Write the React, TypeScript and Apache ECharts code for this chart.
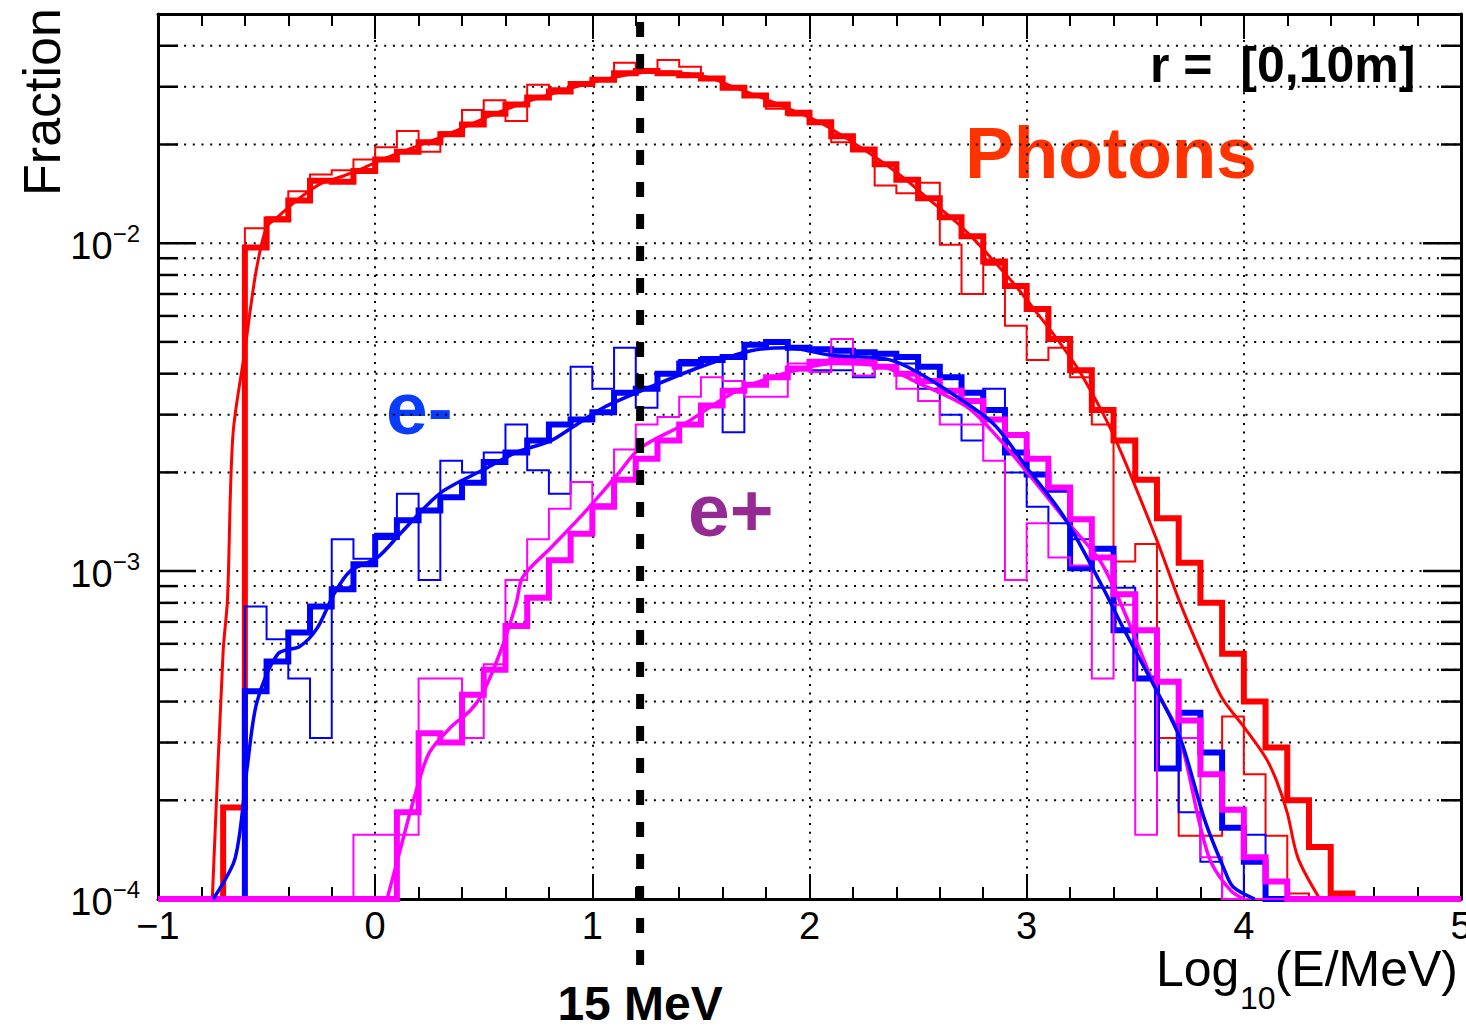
import { useEffect, useRef } from 'react';
import * as echarts from 'echarts';

// ---------- axis ranges / ticks ----------
const X_MIN = -1;
const X_MAX = 5;
const BIN_WIDTH = 0.1;
const Y_MIN = 1e-4;
const Y_MAX = 0.05;
const Y_GRID_VALUES = [
  2e-4, 3e-4, 4e-4, 5e-4, 6e-4, 7e-4, 8e-4, 9e-4,
  1e-3, 2e-3, 3e-3, 4e-3, 5e-3, 6e-3, 7e-3, 8e-3, 9e-3,
  1e-2, 2e-2, 3e-2, 4e-2,
];
const Y_MAJOR_TICKS = [1e-3, 1e-2];
const THRESHOLD_X = [1.22];
const THRESHOLD_LABEL = '15 MeV';

// ---------- histograms: 60 bins of 0.1 from -1 to 5 ----------
const photonThick = [
  0, 0, 0, 1.9e-4,
  0.0097, 0.0118, 0.0135, 0.0155, 0.0154, 0.0166,
  0.018, 0.019, 0.0203, 0.0215, 0.023, 0.0248, 0.0265, 0.0278, 0.029, 0.0306,
  0.0315, 0.033, 0.0335, 0.033, 0.0325, 0.0318, 0.0298, 0.0282, 0.0265, 0.025,
  0.0234, 0.0212, 0.0193, 0.0174, 0.0156, 0.0137, 0.012, 0.0105, 0.0088, 0.0074,
  0.0063, 0.0051, 0.0041, 0.0031, 0.0025, 0.0019, 0.00145, 0.00106, 0.0008, 0.00056,
  0.0004, 0.00029, 0.0002, 0.000144, 0.000104, 0, 0, 0, 0, 0,
];
const photonThin = [
  0, 0, 0, 0,
  0.0111, 0.012, 0.0144, 0.0162, 0.0167, 0.018,
  0.0196, 0.022, 0.019, 0.0218, 0.0255, 0.0273, 0.0236, 0.0304, 0.0297, 0.031,
  0.0318, 0.0355, 0.034, 0.0362, 0.0345, 0.032, 0.03, 0.0285, 0.0257, 0.0245,
  0.0232, 0.0203, 0.0192, 0.015, 0.0142, 0.0153, 0.0099, 0.007, 0.0086, 0.0056,
  0.0044, 0.0048, 0.0039, 0.0028, 0.00107, 0.00121, 0.00031, 0.000156, 0.000156, 0.00036,
  0.00024, 0.000156, 0.000104, 0, 0, 0, 0, 0, 0, 0,
];
const electronThick = [
  0, 0, 0, 0,
  4.3e-4, 5.3e-4, 6.5e-4, 7.8e-4, 8.8e-4, 1.05e-3,
  1.27e-3, 1.43e-3, 1.53e-3, 1.68e-3, 1.86e-3, 2.15e-3, 2.3e-3, 2.5e-3, 2.8e-3, 2.9e-3,
  3.05e-3, 3.5e-3, 3.6e-3, 4.0e-3, 4.3e-3, 4.4e-3, 4.5e-3, 4.9e-3, 5.0e-3, 4.8e-3,
  4.75e-3, 4.7e-3, 4.65e-3, 4.6e-3, 4.5e-3, 4.2e-3, 3.9e-3, 3.5e-3, 3.1e-3, 2.3e-3,
  1.97e-3, 1.77e-3, 1.02e-3, 1.17e-3, 6.6e-4, 4.7e-4, 2.5e-4, 3.7e-4, 2.8e-4, 1.65e-4,
  1.3e-4, 0, 0, 0, 0, 0, 0, 0, 0, 0,
];
const electronThin = [
  0, 0, 0, 0,
  7.8e-4, 6.2e-4, 4.7e-4, 3.1e-4, 1.25e-3, 1.09e-3,
  1.3e-3, 1.72e-3, 9.4e-4, 2.17e-3, 2.0e-3, 2.3e-3, 2.8e-3, 2.03e-3, 1.72e-3, 4.2e-3,
  3.6e-3, 4.8e-3, 3.15e-3, 4.0e-3, 4.4e-3, 4.5e-3, 2.65e-3, 4.9e-3, 5.0e-3, 4.1e-3,
  4.1e-3, 4.1e-3, 3.9e-3, 4.4e-3, 4.3e-3, 3.6e-3, 3.0e-3, 2.5e-3, 3.6e-3, 2.0e-3,
  1.57e-3, 1.4e-3, 1.25e-3, 8.9e-4, 8.9e-4, 4.7e-4, 2.5e-4, 1.84e-4, 1.3e-4, 0,
  1.57e-4, 0, 0, 0, 0, 0, 0, 0, 0, 0,
];
const positronThick = [
  0, 0, 0, 0, 0, 0, 0, 0, 0, 0,
  0, 1.84e-4, 3.2e-4, 3.0e-4, 4.2e-4, 5.0e-4, 6.8e-4, 8.3e-4, 1.08e-3, 1.3e-3,
  1.57e-3, 1.9e-3, 2.2e-3, 2.5e-3, 2.8e-3, 3.2e-3, 3.55e-3, 3.7e-3, 3.9e-3, 4.15e-3,
  4.35e-3, 4.4e-3, 4.35e-3, 4.2e-3, 4.0e-3, 3.8e-3, 3.55e-3, 3.3e-3, 2.9e-3, 2.6e-3,
  2.2e-3, 1.8e-3, 1.44e-3, 1.1e-3, 8.5e-4, 6.6e-4, 4.6e-4, 3.5e-4, 2.4e-4, 1.87e-4,
  1.34e-4, 1.13e-4, 0, 0, 0, 0, 0, 0, 0, 0,
];
const positronThin = [
  0, 0, 0, 0, 0, 0, 0, 0, 0, 1.57e-4,
  1.57e-4, 1.57e-4, 4.7e-4, 4.7e-4, 3.1e-4, 5.2e-4, 9.4e-4, 1.25e-3, 1.55e-3, 1.87e-3,
  1.6e-3, 2.35e-3, 2.8e-3, 2.95e-3, 3.4e-3, 3.9e-3, 3.8e-3, 3.4e-3, 3.4e-3, 4.3e-3,
  4.05e-3, 5.1e-3, 3.95e-3, 4.2e-3, 3.6e-3, 3.3e-3, 2.8e-3, 2.8e-3, 2.17e-3, 9.4e-4,
  1.4e-3, 1.1e-3, 1.04e-3, 4.7e-4, 7.9e-4, 1.57e-4, 4.6e-4, 3.1e-4, 1.34e-4, 0,
  0, 0, 0, 0, 0, 0, 0, 0, 0, 0,
];

// ---------- smooth curves ----------
const photonCurveX = [
  -0.75, -0.7, -0.68, -0.655, -0.6, -0.55, -0.5, -0.45, -0.35, -0.25, -0.15, -0.05,
  0.05, 0.15, 0.25, 0.35, 0.45, 0.55, 0.65, 0.75, 0.85, 0.95, 1.05, 1.15, 1.25, 1.35,
  1.45, 1.55, 1.65, 1.75, 1.85, 1.95, 2.05, 2.15, 2.25, 2.35, 2.45, 2.55, 2.65, 2.75,
  2.85, 2.95, 3.05, 3.15, 3.25, 3.4, 3.6, 3.7, 3.8, 3.9, 4.0, 4.1, 4.15, 4.2, 4.25, 4.35,
];
const photonCurveY = [
  1e-4, 5.7e-4, 8.2e-4, 2.6e-3, 4.7e-3, 8.1e-3, 1.12e-2, 1.2e-2, 1.37e-2, 1.52e-2, 1.6e-2, 1.7e-2,
  1.82e-2, 1.93e-2, 2.04e-2, 2.17e-2, 2.32e-2, 2.48e-2, 2.63e-2, 2.77e-2, 2.9e-2, 3.03e-2, 3.15e-2, 3.25e-2, 3.32e-2, 3.33e-2,
  3.28e-2, 3.18e-2, 3.0e-2, 2.83e-2, 2.66e-2, 2.5e-2, 2.33e-2, 2.13e-2, 1.93e-2, 1.74e-2, 1.55e-2, 1.36e-2, 1.2e-2, 1.04e-2,
  8.8e-3, 7.4e-3, 6.1e-3, 5.0e-3, 4.0e-3, 2.6e-3, 1.24e-3, 8.2e-4, 5.7e-4, 4.1e-4, 3.35e-4, 2.7e-4, 2.3e-4, 1.83e-4, 1.33e-4, 1e-4,
];
const electronCurveX = [
  -0.746, -0.645, -0.59, -0.544, -0.447, -0.346, -0.267, -0.19, -0.115, 0.01, 0.115, 0.3,
  0.5, 0.65, 0.81, 0.91, 1.05, 1.27, 1.5, 1.73, 1.9, 2.1, 2.34, 2.45, 2.65, 2.85,
  3.0, 3.17, 3.34, 3.45, 3.6, 3.71, 3.82, 3.91, 3.95, 4.05,
];
const electronCurveY = [
  1e-4, 1.33e-4, 2.5e-4, 4.0e-4, 5.6e-4, 5.9e-4, 6.7e-4, 8.5e-4, 1.0e-3, 1.1e-3, 1.3e-3, 1.73e-3,
  2.04e-3, 2.3e-3, 2.5e-3, 2.75e-3, 3.15e-3, 3.65e-3, 4.2e-3, 4.7e-3, 4.8e-3, 4.55e-3, 4.45e-3, 4.2e-3, 3.5e-3, 2.8e-3,
  2.07e-3, 1.47e-3, 9.2e-4, 6.6e-4, 4.3e-4, 3.05e-4, 1.74e-4, 1.23e-4, 1.09e-4, 1e-4,
];
const positronCurveX = [
  0.055, 0.106, 0.19, 0.25, 0.35, 0.44, 0.5, 0.59, 0.65, 0.68, 0.81, 0.96, 1.11, 1.22,
  1.42, 1.65, 1.88, 2.11, 2.34, 2.5, 2.73, 2.88, 3.03, 3.18, 3.34, 3.45, 3.6, 3.7,
  3.8, 3.85, 3.94, 4.0,
];
const positronCurveY = [
  1e-4, 1.34e-4, 2.15e-4, 2.8e-4, 3.35e-4, 3.77e-4, 4.3e-4, 6.0e-4, 8.0e-4, 9.6e-4, 1.18e-3, 1.5e-3, 1.95e-3, 2.37e-3,
  2.8e-3, 3.5e-3, 4.0e-3, 4.3e-3, 4.2e-3, 3.75e-3, 3.15e-3, 2.5e-3, 1.9e-3, 1.43e-3, 1.07e-3, 7.5e-4, 4.3e-4, 3.2e-4,
  1.66e-4, 1.29e-4, 1.06e-4, 1e-4,
];

const RED = '#ff0000';
const BLUE = '#0000ff';
const MAGENTA = '#ff00ff';
const FONT = '"Liberation Sans", Arial, Helvetica, sans-serif';

function histPoints(vals: number[]) {
  const pts: number[][] = [];
  vals.forEach((v, i) => {
    const lo = +(X_MIN + i * BIN_WIDTH).toFixed(2);
    const hi = +(X_MIN + (i + 1) * BIN_WIDTH).toFixed(2);
    const y = v > 0 ? v : Y_MIN; // empty bins sit on the axis floor, as in ROOT
    pts.push([lo, y], [hi, y]);
  });
  return pts;
}

function hist(name: string, vals: number[], color: string, width: number, z: number) {
  return {
    name,
    type: 'line',
    data: histPoints(vals),
    showSymbol: false,
    symbol: 'none',
    clip: false,
    z,
    lineStyle: { color, width, join: 'miter', cap: 'butt' },
    silent: true,
  };
}

function curve(name: string, xs: number[], ys: number[], color: string, width: number, z: number) {
  return {
    name,
    type: 'line',
    data: xs.map((x, i) => [x, ys[i]]),
    showSymbol: false,
    symbol: 'none',
    smooth: 0.3,
    clip: false,
    z,
    lineStyle: { color, width },
    silent: true,
  };
}

export default function App() {
  const ref = useRef<HTMLDivElement>(null);

  useEffect(() => {
    if (!ref.current) return;
    const chart = echarts.init(ref.current, null, { renderer: 'svg' });

    const xAxisCommon = {
      type: 'value',
      min: X_MIN,
      max: X_MAX,
      interval: 1,
      axisLine: { show: true, onZero: false, lineStyle: { color: '#000', width: 3 } },
      axisTick: { show: true, inside: true, length: 25, lineStyle: { color: '#000', width: 2 } },
      minorTick: { show: true, splitNumber: 5, length: 12, lineStyle: { color: '#000', width: 2 } },
    };

    const option = {
      animation: false,
      backgroundColor: '#fff',
      grid: { left: 158, right: 5, top: 14, bottom: 130, containLabel: false, outerBoundsMode: 'none' },
      xAxis: [
        {
          ...xAxisCommon,
          position: 'bottom',
          axisLabel: {
            show: true,
            fontSize: 38,
            fontFamily: FONT,
            color: '#000',
            margin: 8,
            lineHeight: 38,
            formatter: (v: number) => (v < 0 ? '\u2212' + Math.abs(v) : String(v)),
          },
          splitLine: { show: true, lineStyle: { color: '#000', width: 2, type: [2, 6.7] } },
        },
        {
          ...xAxisCommon,
          position: 'top',
          axisLabel: { show: false },
          splitLine: { show: false },
        },
      ],
      yAxis: [
        {
          type: 'log',
          logBase: 10,
          min: Y_MIN,
          max: Y_MAX,
          position: 'left',
          axisLine: { show: true, onZero: false, lineStyle: { color: '#000', width: 3 } },
          axisTick: { show: false },
          splitLine: { show: false },
          axisLabel: {
            show: true,
            margin: 18,
            showMaxLabel: false,
            formatter: (v: number) => {
              const e = Math.round(Math.log10(v));
              if (Math.abs(Math.log10(v) - e) > 1e-6) return '';
              return '{b|10}{s|\u2212' + Math.abs(e) + '}';
            },
            rich: {
              b: { fontSize: 38, fontFamily: FONT, color: '#000', lineHeight: 44, verticalAlign: 'bottom' },
              s: { fontSize: 24, fontFamily: FONT, color: '#000', lineHeight: 24, verticalAlign: 'top' },
            },
          },
        },
        {
          type: 'log',
          logBase: 10,
          min: Y_MIN,
          max: Y_MAX,
          position: 'right',
          axisLine: { show: true, onZero: false, lineStyle: { color: '#000', width: 3 } },
          axisTick: { show: false },
          splitLine: { show: false },
          axisLabel: { show: false },
        },
      ],
      series: [
        {
          name: 'yGrid',
          type: 'custom',
          coordinateSystem: 'cartesian2d',
          data: Y_GRID_VALUES.map((v) => [X_MIN, v]),
          clip: false,
          silent: true,
          z: 1,
          renderItem: (_p: any, api: any) => {
            const v = api.value(1);
            const p0 = api.coord([X_MIN, v]);
            const p1 = api.coord([X_MAX, v]);
            const major = Y_MAJOR_TICKS.some((m) => Math.abs(m - v) / m < 1e-6);
            const len = major ? 38 : 20;
            return {
              type: 'group',
              children: [
                { type: 'line', shape: { x1: p0[0], y1: p0[1], x2: p1[0], y2: p1[1] }, style: { stroke: '#000', lineWidth: 2, lineDash: [2, 6.7] } },
                { type: 'line', shape: { x1: p0[0], y1: p0[1], x2: p0[0] + len, y2: p0[1] }, style: { stroke: '#000', lineWidth: 2.5 } },
                { type: 'line', shape: { x1: p1[0] - len, y1: p1[1], x2: p1[0], y2: p1[1] }, style: { stroke: '#000', lineWidth: 2.5 } },
              ],
            };
          },
        },
        hist('photons thick', photonThick, RED, 6, 3),
        hist('photons thin', photonThin, RED, 2, 3),
        curve('photons curve', photonCurveX, photonCurveY, RED, 3, 3),
        hist('e- thick', electronThick, BLUE, 6, 4),
        hist('e- thin', electronThin, BLUE, 2, 4),
        hist('e+ thick', positronThick, MAGENTA, 6, 5),
        hist('e+ thin', positronThin, MAGENTA, 2, 5),
        curve('e+ curve', positronCurveX, positronCurveY, MAGENTA, 3.5, 5),
        curve('e- curve', electronCurveX, electronCurveY, BLUE, 3.5, 6),
        {
          name: 'threshold',
          type: 'custom',
          coordinateSystem: 'cartesian2d',
          data: THRESHOLD_X.map((x) => [x, Y_MAX]),
          clip: false,
          silent: true,
          z: 20,
          renderItem: (_p: any, api: any) => {
            const x = api.value(0);
            const top = api.coord([x, Y_MAX]);
            const bot = api.coord([x, Y_MIN]);
            return {
              type: 'group',
              children: [
                {
                  type: 'line',
                  shape: { x1: top[0], y1: top[1] + 8, x2: bot[0], y2: bot[1] + 66 },
                  style: { stroke: '#000', lineWidth: 8, lineDash: [15, 17] },
                },
                {
                  type: 'text',
                  style: {
                    text: THRESHOLD_LABEL,
                    x: bot[0],
                    y: bot[1] + 104,
                    align: 'center',
                    verticalAlign: 'middle',
                    textAlign: 'center',
                    textVerticalAlign: 'middle',
                    font: 'bold 48px ' + FONT,
                    fill: '#000',
                  },
                },
              ],
            };
          },
        },
      ],
      graphic: [
        {
          type: 'text',
          x: 42,
          y: 102,
          rotation: Math.PI / 2,
          style: { text: 'Fraction', font: '52px ' + FONT, fill: '#000', align: 'center', verticalAlign: 'middle' },
        },
        {
          type: 'text',
          x: 1150,
          y: 65,
          style: { text: 'r =  [0,10m]', font: 'bold 50px ' + FONT, fill: '#000', align: 'left', verticalAlign: 'middle' },
        },
        {
          type: 'text',
          x: 965,
          y: 152,
          style: { text: 'Photons', font: 'bold 73px ' + FONT, fill: '#ff3300', align: 'left', verticalAlign: 'middle' },
        },
        {
          type: 'text',
          x: 386,
          y: 408,
          style: { text: 'e-', font: 'bold 75px ' + FONT, fill: '#0a3cff', align: 'left', verticalAlign: 'middle' },
        },
        {
          type: 'text',
          x: 688,
          y: 510,
          style: { text: 'e+', font: 'bold 75px ' + FONT, fill: '#952a92', align: 'left', verticalAlign: 'middle' },
        },
        {
          type: 'text',
          x: 1156,
          y: 969,
          style: { text: 'Log', font: '50px ' + FONT, fill: '#000', align: 'left', verticalAlign: 'middle' },
        },
        {
          type: 'text',
          x: 1240,
          y: 998,
          style: { text: '10', font: '32px ' + FONT, fill: '#000', align: 'left', verticalAlign: 'middle' },
        },
        {
          type: 'text',
          x: 1458,
          y: 969,
          style: { text: '(E/MeV)', font: '50px ' + FONT, fill: '#000', align: 'right', verticalAlign: 'middle' },
        },
      ],
    };

    chart.setOption(option as any);
    return () => chart.dispose();
  }, []);

  return (
    <div
      ref={ref}
      style={{ position: 'fixed', left: 0, top: 0, width: 1466, height: 1029, background: '#fff' }}
    />
  );
}
